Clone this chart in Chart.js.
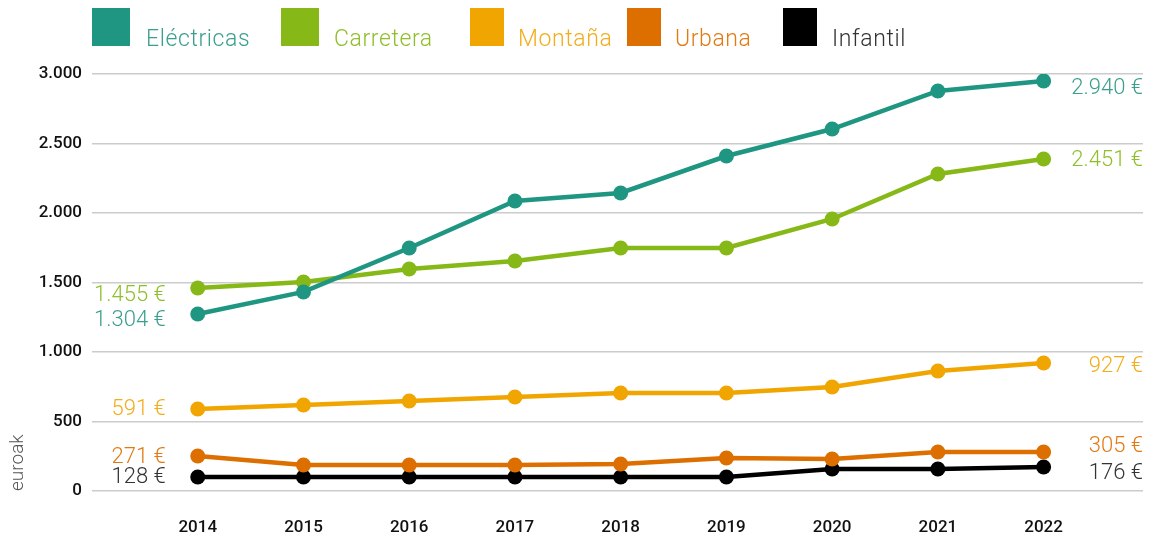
<!DOCTYPE html>
<html>
<head>
<meta charset="utf-8">
<script src="https://cdn.jsdelivr.net/npm/chart.js@4"></script>
<style>
  html, body { margin: 0; padding: 0; background: #fff; }
  #wrap { position: relative; width: 1151px; height: 535px; }
  #legend { position: absolute; top: 0; left: 0; width: 1151px; height: 60px; font-family: Roboto, sans-serif; font-weight: 300; font-size: 23px; }
  .box { position: absolute; top: 8px; height: 38px; }
  .lbl { position: absolute; top: 27px; line-height: 1; letter-spacing: 0.6px; white-space: nowrap; }
</style>
</head>
<body>
<div id="wrap">
  <canvas id="chart" width="1151" height="535"></canvas>
  <div id="legend"></div>
</div>
<script>
const years = [2014, 2015, 2016, 2017, 2018, 2019, 2020, 2021, 2022];
const seriesNames = ['Eléctricas', 'Carretera', 'Montaña', 'Urbana', 'Infantil'];
const electricas = [1273, 1432, 1748, 2086, 2144, 2410, 2604, 2878, 2950];
const carretera = [1460, 1504, 1597, 1655, 1748, 1748, 1957, 2281, 2388];
const montana = [590, 619, 647, 676, 705, 705, 748, 863, 921];
const urbana = [252, 187, 187, 187, 194, 237, 230, 281, 281];
const infantil = [101, 101, 101, 101, 101, 101, 158, 158, 173];
const firstLabels = [1304, 1455, 591, 271, 128];
const lastLabels = [2940, 2451, 927, 305, 176];
const yTicks = [0, 500, 1000, 1500, 2000, 2500, 3000];

const colors = ['#1f9682', '#86b817', '#f0a500', '#dd6f00', '#000000'];
const textColors = ['#3a9f8d', '#8fbf2a', '#f2ad1a', '#e27a14', '#333333'];
const leftNudge = [6, 7, 1, 2, 1];
const rightNudge = [8, 1, 4, -5, 7];

// legend layout (px)
const legendBoxX = [92, 281, 470, 627, 783];
const legendBoxW = [38, 38, 34, 34, 34];
const legendTextX = [146, 334, 518, 675, 832];

const seriesValues = [electricas, carretera, montana, urbana, infantil];

function fmt(n) {
    return String(n).replace(/\B(?=(\d{3})+(?!\d))/g, '.');
}

// html legend
const legendEl = document.getElementById('legend');
seriesNames.forEach((name, i) => {
    const box = document.createElement('div');
    box.className = 'box';
    box.style.left = legendBoxX[i] + 'px';
    box.style.width = legendBoxW[i] + 'px';
    box.style.background = colors[i];
    const lbl = document.createElement('div');
    lbl.className = 'lbl';
    lbl.style.left = legendTextX[i] + 'px';
    lbl.style.color = textColors[i];
    lbl.textContent = name;
    legendEl.appendChild(box);
    legendEl.appendChild(lbl);
});

const endLabels = {
    id: 'endLabels',
    afterDatasetsDraw(chart) {
        const ctx = chart.ctx;
        const right = chart.chartArea.right;
        ctx.save();
        ctx.font = '300 22px Roboto, sans-serif';
        ctx.textBaseline = 'middle';
        chart.data.datasets.forEach((ds, i) => {
            const pts = chart.getDatasetMeta(i).data;
            const first = pts[0], last = pts[pts.length - 1];
            ctx.fillStyle = textColors[i];
            ctx.textAlign = 'right';
            ctx.fillText(fmt(firstLabels[i]) + ' €', first.x - 32, first.y + leftNudge[i]);
            ctx.fillText(fmt(lastLabels[i]) + ' €', right, last.y + rightNudge[i]);
        });
        ctx.restore();
    }
};

new Chart(document.getElementById('chart').getContext('2d'), {
    type: 'line',
    data: {
        datasets: seriesValues.map((vals, i) => ({
            label: seriesNames[i],
            data: vals.map((v, j) => ({ x: years[j], y: v })),
            borderColor: colors[i],
            backgroundColor: colors[i],
            borderWidth: 4.5,
            pointRadius: 7.5,
            pointBackgroundColor: colors[i],
            pointBorderWidth: 0,
            tension: 0
        }))
    },
    options: {
        responsive: false,
        animation: false,
        layout: { padding: { top: 74, right: 8, left: 0, bottom: 0 } },
        plugins: {
            legend: { display: false },
            tooltip: { enabled: false }
        },
        scales: {
            x: {
                type: 'linear',
                min: 2013,
                max: 2022.94,
                grid: { display: false },
                border: { display: false },
                afterFit: (s) => { s.height = 44; },
                afterBuildTicks: (s) => { s.ticks = years.map(v => ({ value: v })); },
                ticks: {
                    color: '#111',
                    padding: 19,
                    font: { family: 'Roboto', size: 17, weight: 500 },
                    callback: (v) => String(v)
                }
            },
            y: {
                min: 0,
                max: 3000,
                afterFit: (s) => { s.width = 92; },
                afterBuildTicks: (s) => { s.ticks = yTicks.map(v => ({ value: v })); },
                grid: { color: '#cccccc', lineWidth: 1.5, drawTicks: false },
                border: { display: false },
                title: {
                    display: true,
                    text: 'euroak',
                    align: 'start',
                    color: '#555',
                    padding: { top: 7, bottom: 0 },
                    font: { family: 'Roboto', size: 19, weight: 300 }
                },
                ticks: {
                    color: '#111',
                    padding: 10,
                    font: { family: 'Roboto', size: 17, weight: 500 },
                    callback: (v) => fmt(v)
                }
            }
        }
    },
    plugins: [endLabels]
});
</script>
</body>
</html>
